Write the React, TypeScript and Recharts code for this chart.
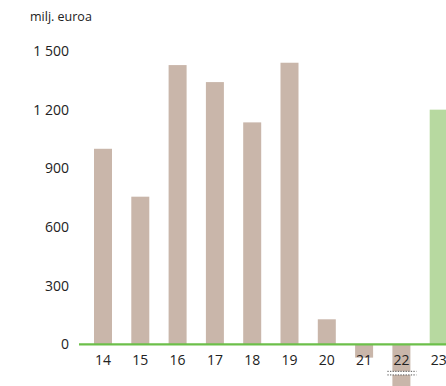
import { BarChart, Bar, XAxis, YAxis, ReferenceLine, Cell, LabelList } from "recharts";

const years = ["14", "15", "16", "17", "18", "19", "20", "21", "22", "23"];
const values = [1000, 755, 1428, 1341, 1135, 1440, 128, -68, -250, 1200];
const highlightYears = ["23"];
const brokenYears = ["22"];
const yTicks = [0, 300, 600, 900, 1200, 1500];

const data = years.map((year, i) => ({
  year,
  value: values[i],
  broken: brokenYears.includes(year),
}));

const BAR = "#c9b6aa";
const GREEN_BAR = "#b7d9a0";
const ZERO_LINE = "#6cbf4a";
const TEXT = "#222";
const FONT = "'Open Sans', 'Noto Sans', sans-serif";

const fmt = (v: number) => String(v).replace(/\B(?=(\d{3})+(?!\d))/g, " ");

function BrokenBar(props: any) {
  const { x, y, width, height, fill, payload } = props;
  const top = Math.min(y, y + height);
  const h = Math.abs(height);
  if (!payload?.broken) return <rect x={x} y={top} width={width} height={h} fill={fill} />;
  const gapY = top + 27;
  return (
    <g>
      <rect x={x} y={top} width={width} height={h} fill={fill} />
      <rect x={x - 6} y={gapY} width={width + 12} height={3.6} fill="#fff" />
      <line x1={x - 5} x2={x + width + 6} y1={gapY} y2={gapY} stroke="#555" strokeWidth={1} strokeDasharray="1.3 1.3" />
      <line x1={x - 5} x2={x + width + 6} y1={gapY + 3.6} y2={gapY + 3.6} stroke="#555" strokeWidth={1} strokeDasharray="1.3 1.3" />
    </g>
  );
}

function YearLabel(props: any) {
  const { x, y, width, height, value } = props;
  const zeroY = y + height;
  return (
    <text x={x + width / 2} y={zeroY + 21} textAnchor="middle" fontSize={14} fill={TEXT} fontFamily={FONT}>
      {value}
    </text>
  );
}

export default function App() {
  return (
    <div
      style={{
        position: "absolute",
        left: 0,
        top: 0,
        width: 446,
        height: 386,
        overflow: "hidden",
        background: "#fff",
        fontFamily: FONT,
      }}
    >
      <div style={{ position: "absolute", left: 30, top: 8, fontSize: 12.5, color: TEXT }}>milj. euroa</div>
      <BarChart width={457} height={403} data={data} margin={{ top: 51, right: 0, bottom: 0, left: 0 }}>
        <XAxis dataKey="year" hide padding={{ left: 5, right: 0 }} />
        <YAxis
          domain={[-300, 1500]}
          ticks={yTicks}
          width={79}
          axisLine={false}
          tickLine={false}
          tickSize={0}
          tickMargin={10}
          tickFormatter={fmt}
          tick={{ fill: TEXT, fontSize: 14, fontFamily: FONT }}
        />
        <Bar dataKey="value" barSize={18} isAnimationActive={false} shape={<BrokenBar />}>
          {data.map((d) => (
            <Cell key={d.year} fill={highlightYears.includes(d.year) ? GREEN_BAR : BAR} />
          ))}
          <LabelList dataKey="year" content={<YearLabel />} />
        </Bar>
        <ReferenceLine y={0} stroke={ZERO_LINE} strokeWidth={2.2} />
      </BarChart>
    </div>
  );
}
